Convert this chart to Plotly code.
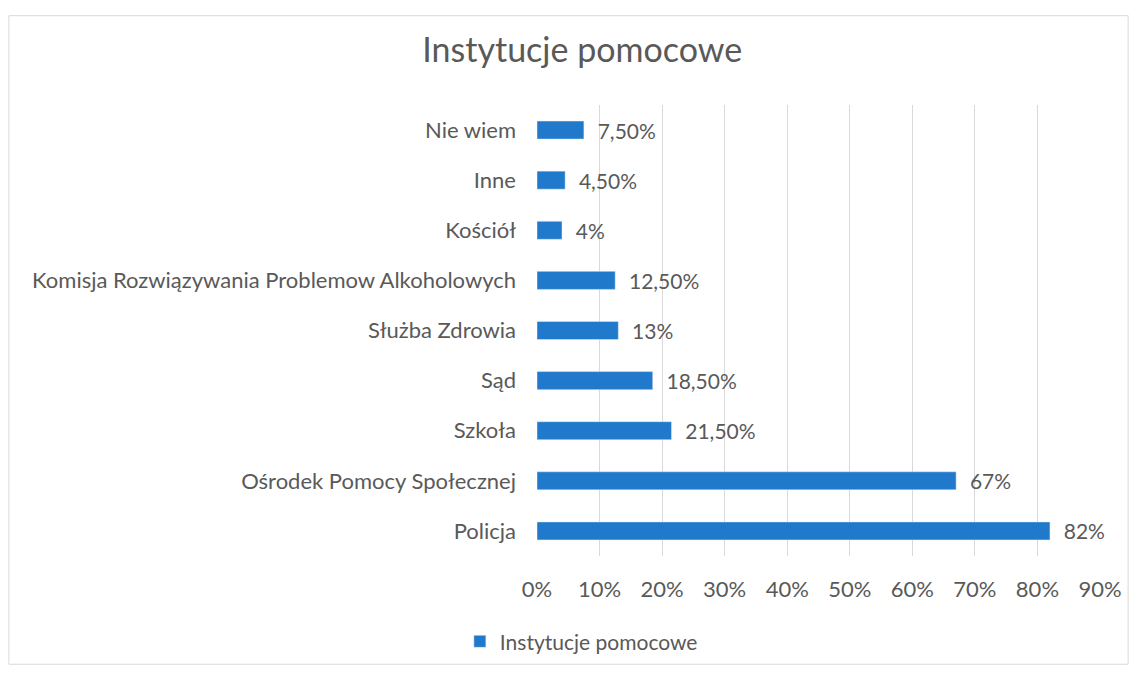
import plotly.graph_objects as go

# kategorie od dołu do góry (tak jak w Excelu)
kategorie = ["Policja", "Ośrodek Pomocy Społecznej", "Szkoła", "Sąd", "Służba Zdrowia",
             "Komisja Rozwiązywania Problemow Alkoholowych", "Kościół", "Inne", "Nie wiem"]
wartosci = [0.82, 0.67, 0.215, 0.185, 0.13, 0.125, 0.04, 0.045, 0.075]
etykiety = ["82%", "67%", "21,50%", "18,50%", "13%", "12,50%", "4%", "4,50%", "7,50%"]
ticki = [0, 0.1, 0.2, 0.3, 0.4, 0.5, 0.6, 0.7, 0.8, 0.9]
tick_tekst = ["0%", "10%", "20%", "30%", "40%", "50%", "60%", "70%", "80%", "90%"]

szary = "#595959"
czcionka = "Lato, Open Sans, sans-serif"

fig = go.Figure()
fig.add_trace(go.Bar(
    y=kategorie, x=wartosci, orientation="h",
    name="Instytucje pomocowe",
    marker=dict(color="#2179cc"),
    text=etykiety, texttemplate="\u00a0\u00a0%{text}", textposition="outside",
    constraintext="none",
    textfont=dict(size=21, color=szary, family=czcionka),
    cliponaxis=False,
))

fig.update_layout(
    width=1137, height=673,
    margin=dict(l=529, r=45, t=97, b=125),
    paper_bgcolor="white", plot_bgcolor="white",
    bargap=0.64,
    font=dict(family=czcionka, color=szary, size=21),
    title=dict(text="Instytucje pomocowe", x=0.505, xanchor="center",
               y=0.937, yanchor="middle", font=dict(size=34, color=szary, family=czcionka)),
    showlegend=True,
    legend=dict(orientation="h", x=-0.137, xanchor="left", y=-0.19, yanchor="middle",
                font=dict(size=21, color=szary)),
    xaxis=dict(range=[0, 0.9], tickvals=ticki, ticktext=tick_tekst,
               showgrid=True, gridcolor="#d9d9d9", gridwidth=1,
               zeroline=False, showline=False, ticks="", ticklabelstandoff=18,
               tickfont=dict(size=22)),
    yaxis=dict(showgrid=False, showline=False, ticks="", ticklabelstandoff=20,
               categoryorder="array", categoryarray=kategorie,
               tickfont=dict(size=22)),
)

# ramka wykresu
fig.add_shape(type="rect", xref="paper", yref="paper", x0=-0.938, x1=1.05, y0=-0.24, y1=1.198,
              line=dict(color="#d9d9d9", width=1))

fig.write_html("out.html")
